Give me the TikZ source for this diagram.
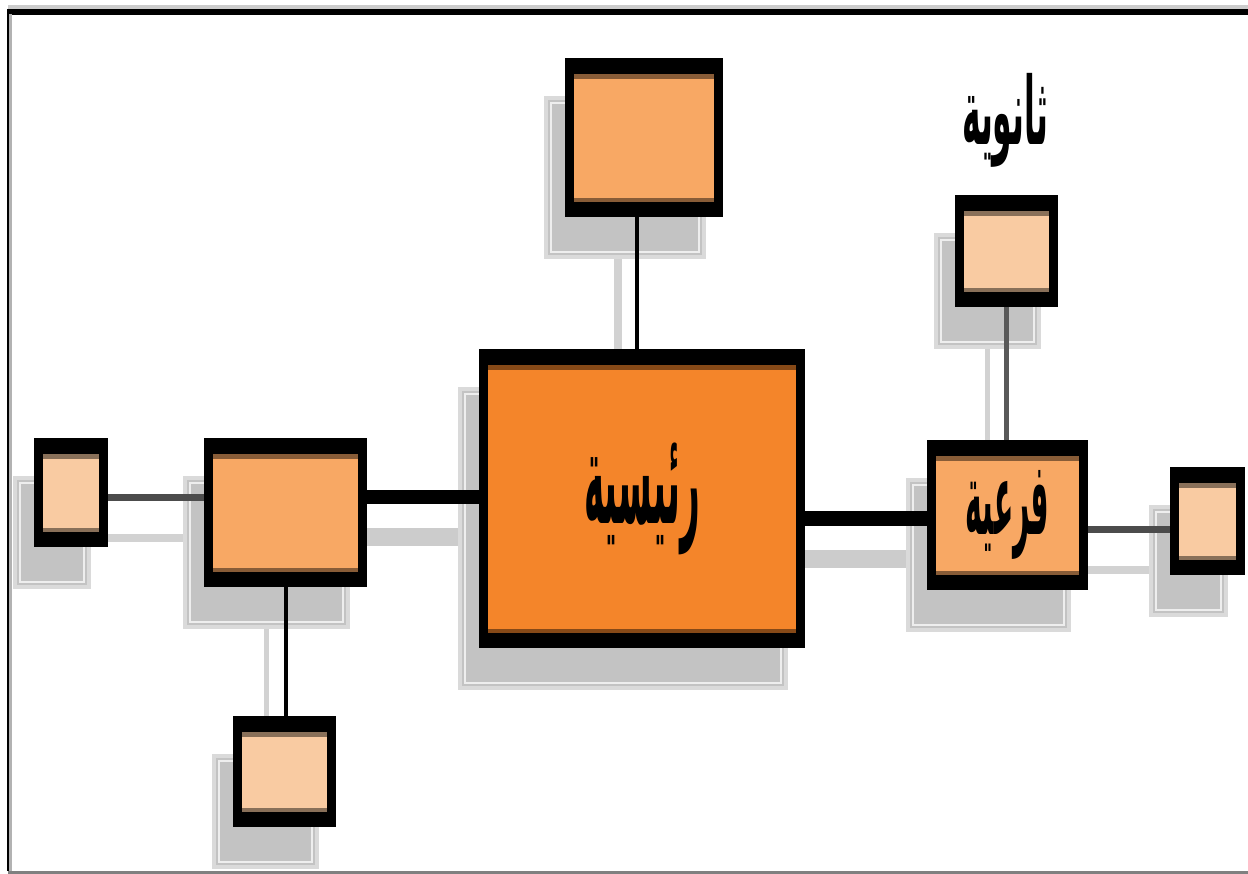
\documentclass[tikz,border=0pt]{standalone}
\usepackage{fontspec}
\usepackage{graphicx}
\usetikzlibrary{backgrounds}
\newfontfamily\arabicfont[Script=Arabic]{DejaVu Sans}
\TeXXeTstate=1
\definecolor{mainorange}{HTML}{F4852A}
\definecolor{midorange}{HTML}{F8A864}
\definecolor{peach}{HTML}{F9CBA2}
\definecolor{shadowgray}{HTML}{C3C3C3}
\definecolor{shadowedge}{HTML}{DADADA}
\definecolor{shadowhi}{HTML}{EEEEEE}
\tikzset{
    unit-box/.style = {fill=black, inner sep=0pt, outer sep=0pt, path picture={
        \fill[#1!55!black] ([shift={(0.18cm,-0.32cm)}]path picture bounding box.north west) rectangle ([shift={(-0.18cm,0.30cm)}]path picture bounding box.south east);
        \fill[#1] ([shift={(0.18cm,-0.42cm)}]path picture bounding box.north west) rectangle ([shift={(-0.18cm,0.38cm)}]path picture bounding box.south east);}},
    box-shadow/.style = {fill=shadowgray, draw=shadowedge, line width=0.08cm},
    box-shadow-inner/.style = {draw=shadowhi, line width=0.04cm},
    drop-shift/.style = {shift={(-0.38cm,-0.8cm)}},
    link-thick/.style = {draw=black, line width=0.3cm},
    link-mid/.style = {draw=black!70, line width=0.14cm},
    link-thin/.style = {draw=black, line width=0.08cm},
    link-gray/.style = {draw=black!65, line width=0.1cm},
    shade-thick/.style = {draw=shadowgray!85, line width=0.36cm},
    shade-thin/.style = {draw=shadowgray!75, line width=0.16cm},
    ar-title/.style = {inner sep=0pt},
}
\begin{document}
\begin{tikzpicture}[x=0.02cm, y=-0.02cm]
\useasboundingbox (0,0) rectangle (1248,874);
\draw[draw=black!20, line width=0.08cm] (8,7) -- (1248,7);
\draw[draw=black, line width=0.12cm] (8,12) -- (1248,12);
\draw[draw=black!30, line width=0.06cm] (10.5,14) -- (10.5,871);
\draw[draw=black, line width=0.05cm] (8,9) -- (8,871);
\draw[draw=black!50, line width=0.08cm] (8,872.5) -- (1248,872.5);

\node[unit-box=mainorange, minimum width=6.52cm, minimum height=5.98cm] (main) at (642,498.5)
    {\resizebox*{2.32cm}{2.24cm}{\arabicfont\bfseries\beginR رئيسية\endR}};
\node[unit-box=midorange, minimum width=3.16cm, minimum height=3.18cm] (sub-top) at (644,137.5) {};
\node[unit-box=midorange, minimum width=3.26cm, minimum height=2.98cm] (sub-left) at (285.5,512.5) {};
\node[unit-box=midorange, minimum width=3.22cm, minimum height=3.00cm] (sub-right) at (1007.5,515)
    {\resizebox*{1.68cm}{1.78cm}{\arabicfont\bfseries\beginR فرعية\endR}};
\node[unit-box=peach, minimum width=1.48cm, minimum height=2.18cm] (sec-left) at (71,492.5) {};
\node[unit-box=peach, minimum width=2.06cm, minimum height=2.22cm] (sec-bottom) at (284.5,771.5) {};
\node[unit-box=peach, minimum width=2.06cm, minimum height=2.24cm] (sec-top) at (1006.5,251) {};
\node[unit-box=peach, minimum width=1.50cm, minimum height=2.16cm] (sec-right) at (1207.5,521) {};
\node[ar-title] (sec-title) at (1005,120)
    {\resizebox*{1.72cm}{1.88cm}{\arabicfont\bfseries\beginR ثانوية\endR}};

\draw[link-mid] ([yshift=-0.11cm]sec-left.east) -- ([yshift=-0.11cm]sec-left.east -| sub-left.west);
\draw[link-thick] ([yshift=0.31cm]sub-left.east) -- ([yshift=0.31cm]sub-left.east -| main.west);
\draw[link-thick] ([yshift=-0.41cm]main.east) -- ([yshift=-0.41cm]main.east -| sub-right.west);
\draw[link-mid] ([yshift=-0.30cm]sub-right.east) -- ([yshift=-0.30cm]sub-right.east -| sec-right.west);
\draw[link-thin] ([xshift=-0.14cm]sub-top.south) -- ([xshift=-0.14cm]sub-top.south |- main.north);
\draw[link-gray] (sec-top.south) -- (sec-top.south |- sub-right.north);
\draw[link-thin] (sub-left.south) -- (sub-left.south |- sec-bottom.north);

\begin{scope}[on background layer]
\draw[shade-thin] ([drop-shift,yshift=-0.11cm]sec-left.east) -- ([drop-shift,yshift=-0.11cm]sec-left.east -| sub-left.west);
\draw[shade-thick] ([drop-shift,yshift=0.31cm]sub-left.east) -- ([drop-shift,yshift=0.31cm]sub-left.east -| main.west);
\draw[shade-thick] ([drop-shift,yshift=-0.41cm]main.east) -- ([drop-shift,yshift=-0.41cm]main.east -| sub-right.west);
\draw[shade-thin] ([drop-shift,yshift=-0.30cm]sub-right.east) -- ([drop-shift,yshift=-0.30cm]sub-right.east -| sec-right.west);
\draw[shade-thin] ([drop-shift,xshift=-0.14cm]sub-top.south) -- ([drop-shift,xshift=-0.14cm]sub-top.south |- main.north);
\draw[shade-thin, line width=0.1cm] ([drop-shift]sec-top.south) -- ([drop-shift]sec-top.south |- sub-right.north);
\draw[shade-thin, line width=0.1cm] ([drop-shift]sub-left.south) -- ([drop-shift]sub-left.south |- sec-bottom.north);
\foreach \n in {main,sub-top,sub-left,sub-right,sec-left,sec-bottom,sec-top,sec-right}{
    \draw[box-shadow] ([drop-shift]\n.south west) rectangle ([drop-shift]\n.north east);
    \draw[box-shadow-inner] ([drop-shift,shift={(0.1cm,0.1cm)}]\n.south west) rectangle ([drop-shift,shift={(-0.1cm,-0.1cm)}]\n.north east);
}
\end{scope}
\end{tikzpicture}
\end{document}
